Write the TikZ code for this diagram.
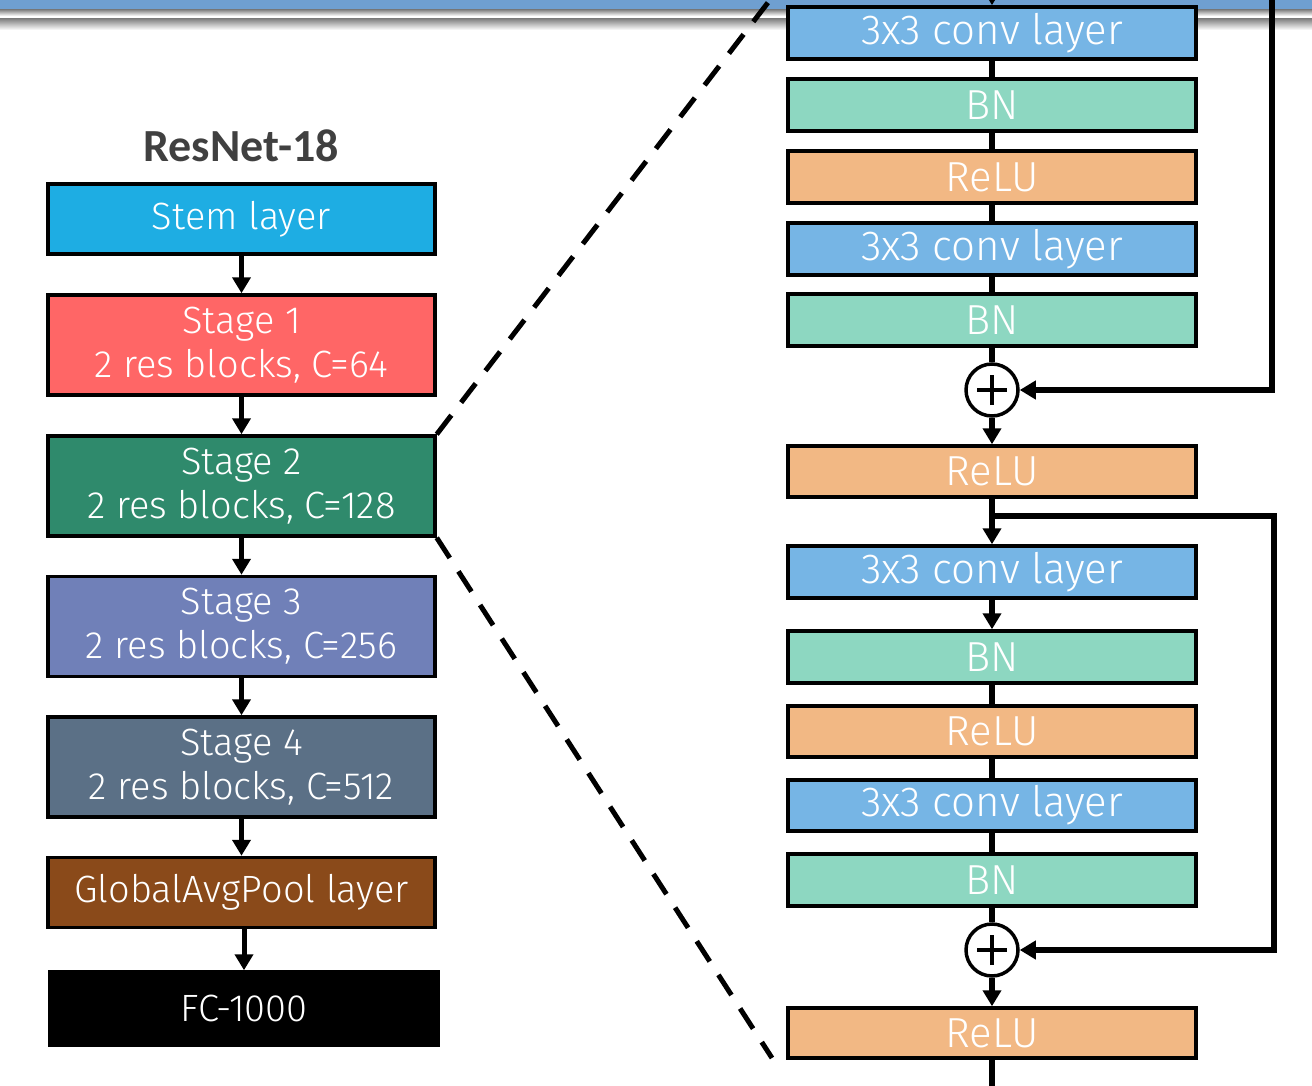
\documentclass[tikz,border=0pt]{standalone}
\usepackage{fontspec}
\setmainfont{Fira Sans}[UprightFont=* Light, BoldFont=* Bold]
\newfontfamily\titlefont{Carlito}
\usetikzlibrary{arrows.meta}
\definecolor{bandblue}{HTML}{6F9FD0}
\definecolor{stemc}{HTML}{1EADE3}
\definecolor{s1c}{HTML}{FF6666}
\definecolor{s2c}{HTML}{2F8A6C}
\definecolor{s3c}{HTML}{7080B8}
\definecolor{s4c}{HTML}{5B7086}
\definecolor{gapc}{HTML}{8A4A1A}
\definecolor{convc}{HTML}{76B5E5}
\definecolor{bnc}{HTML}{8DD7C1}
\definecolor{reluc}{HTML}{F2B884}
\definecolor{titlec}{HTML}{404040}
\tikzset{
  lbox/.style={draw=black, line width=3.5pt, minimum width=387pt, inner sep=0pt,
    text=white, align=center, font=\fontsize{38}{44}\selectfont},
  rbox/.style={draw=black, line width=3.5pt, minimum width=408pt, minimum height=52pt, inner sep=0pt,
    text=white, font=\fontsize{42}{44}\selectfont},
  larr/.style={line width=5pt, -{Triangle[length=16pt,width=18pt]}},
  rarr/.style={line width=5.5pt, -{Triangle[length=16pt,width=18pt]}},
  rline/.style={line width=5.5pt},
  dashline/.style={line width=5pt, dash pattern=on 24pt off 16pt},
  plusnode/.style={circle, draw=black, line width=3.5pt, minimum size=52pt, inner sep=0pt, fill=white}
}
\begin{document}
\begin{tikzpicture}[x=1pt,y=-1pt]
\useasboundingbox (0,0) rectangle (1312,1086);
\fill[white] (0,0) rectangle (1312,1086);
% top band
\fill[bandblue] (0,0) rectangle (1312,9.5);
\shade[top color=black!50, bottom color=white] (0,9.5) rectangle (1312,16);
\shade[top color=black!50, bottom color=white] (0,18.5) rectangle (1312,30);

% title
\node[font=\titlefont\bfseries\fontsize{46}{50}\selectfont, text=titlec] (title) at (241,146) {ResNet-18};

% left column
\node[lbox, fill=stemc, minimum height=70pt] (stem) at (241.5,219) {Stem layer};
\node[lbox, fill=s1c, minimum height=100pt] (st1) at (241.5,345) {Stage 1\\2 res blocks, C=64};
\node[lbox, fill=s2c, minimum height=100pt] (st2) at (241.5,486) {Stage 2\\2 res blocks, C=128};
\node[lbox, fill=s3c, minimum height=100pt] (st3) at (241.5,626.5) {Stage 3\\2 res blocks, C=256};
\node[lbox, fill=s4c, minimum height=100pt] (st4) at (241.5,767) {Stage 4\\2 res blocks, C=512};
\node[lbox, fill=gapc, minimum height=70pt] (gap) at (241.5,892.5) {GlobalAvgPool layer};
\node[lbox, fill=black, draw=black, minimum width=388pt, minimum height=73pt] (fc) at (244,1008.5) {FC-1000};

\draw[larr] (stem.south) -- (st1.north);
\draw[larr] (st1.south) -- (st2.north);
\draw[larr] (st2.south) -- (st3.north);
\draw[larr] (st3.south) -- (st4.north);
\draw[larr] (st4.south) -- (gap.north);
\draw[larr] ([xshift=2.5pt]gap.south) -- (fc.north);

% right column
\node[rbox, fill=convc] (c1) at (992,33) {3x3 conv layer};
\node[rbox, fill=bnc] (b1) at (992,105) {BN};
\node[rbox, fill=reluc] (r1) at (992,177) {ReLU};
\node[rbox, fill=convc] (c2) at (992,249) {3x3 conv layer};
\node[rbox, fill=bnc] (b2) at (992,320) {BN};
\node[plusnode] (p1) at (992,390) {};
\node[rbox, fill=reluc, minimum height=51pt] (r2) at (992,471.5) {ReLU};
\node[rbox, fill=convc] (c3) at (992,572) {3x3 conv layer};
\node[rbox, fill=bnc] (b3) at (992,657) {BN};
\node[rbox, fill=reluc, minimum height=51pt] (r3) at (992,731.5) {ReLU};
\node[rbox, fill=convc, minimum height=51pt] (c4) at (992,805.5) {3x3 conv layer};
\node[rbox, fill=bnc] (b4) at (992,880) {BN};
\node[plusnode] (p2) at (992,950) {};
\node[rbox, fill=reluc, minimum height=50pt] (r4) at (992,1033) {ReLU};

% plus signs
\draw[line width=3.5pt] ([xshift=-15pt]p1.center) -- ([xshift=15pt]p1.center)
  ([yshift=-15pt]p1.center) -- ([yshift=15pt]p1.center);
\draw[line width=3.5pt] ([xshift=-15pt]p2.center) -- ([xshift=15pt]p2.center)
  ([yshift=-15pt]p2.center) -- ([yshift=15pt]p2.center);

\coordinate (topin) at (992,-2);
\coordinate (botout) at (992,1090);
\coordinate (sk1top) at (1272,-2);
\coordinate (sk1turn) at (1272,390);
\coordinate (sk2start) at (992,516);
\coordinate (sk2a) at (1274,516);
\coordinate (sk2b) at (1274,950);

\draw[rarr] (topin) -- (c1.north);
\draw[rline] (c1.south) -- (b1.north);
\draw[rline] (b1.south) -- (r1.north);
\draw[rline] (r1.south) -- (c2.north);
\draw[rline] (c2.south) -- (b2.north);
\draw[rline] (b2.south) -- (p1.north);
\draw[rarr] (p1.south) -- (r2.north);
\draw[rarr] (r2.south) -- (c3.north);
\draw[rarr] (c3.south) -- (b3.north);
\draw[rline] (b3.south) -- (r3.north);
\draw[rline] (r3.south) -- (c4.north);
\draw[rline] (c4.south) -- (b4.north);
\draw[rline] (b4.south) -- (p2.north);
\draw[rarr] (p2.south) -- (r4.north);
\draw[rline] (r4.south) -- (botout);

\draw[rarr, line join=miter] (sk1top) -- (sk1turn) -- (p1.east);
\draw[rarr, line join=miter] (sk2start) -- (sk2a) -- (sk2b) -- (p2.east);

% zoom dashed lines
\coordinate (dtop) at (773,-4);
\coordinate (dbot) at (772,1058);
\draw[dashline] (st2.north east) -- (dtop);
\draw[dashline] (st2.south east) -- (dbot);
\end{tikzpicture}
\end{document}
